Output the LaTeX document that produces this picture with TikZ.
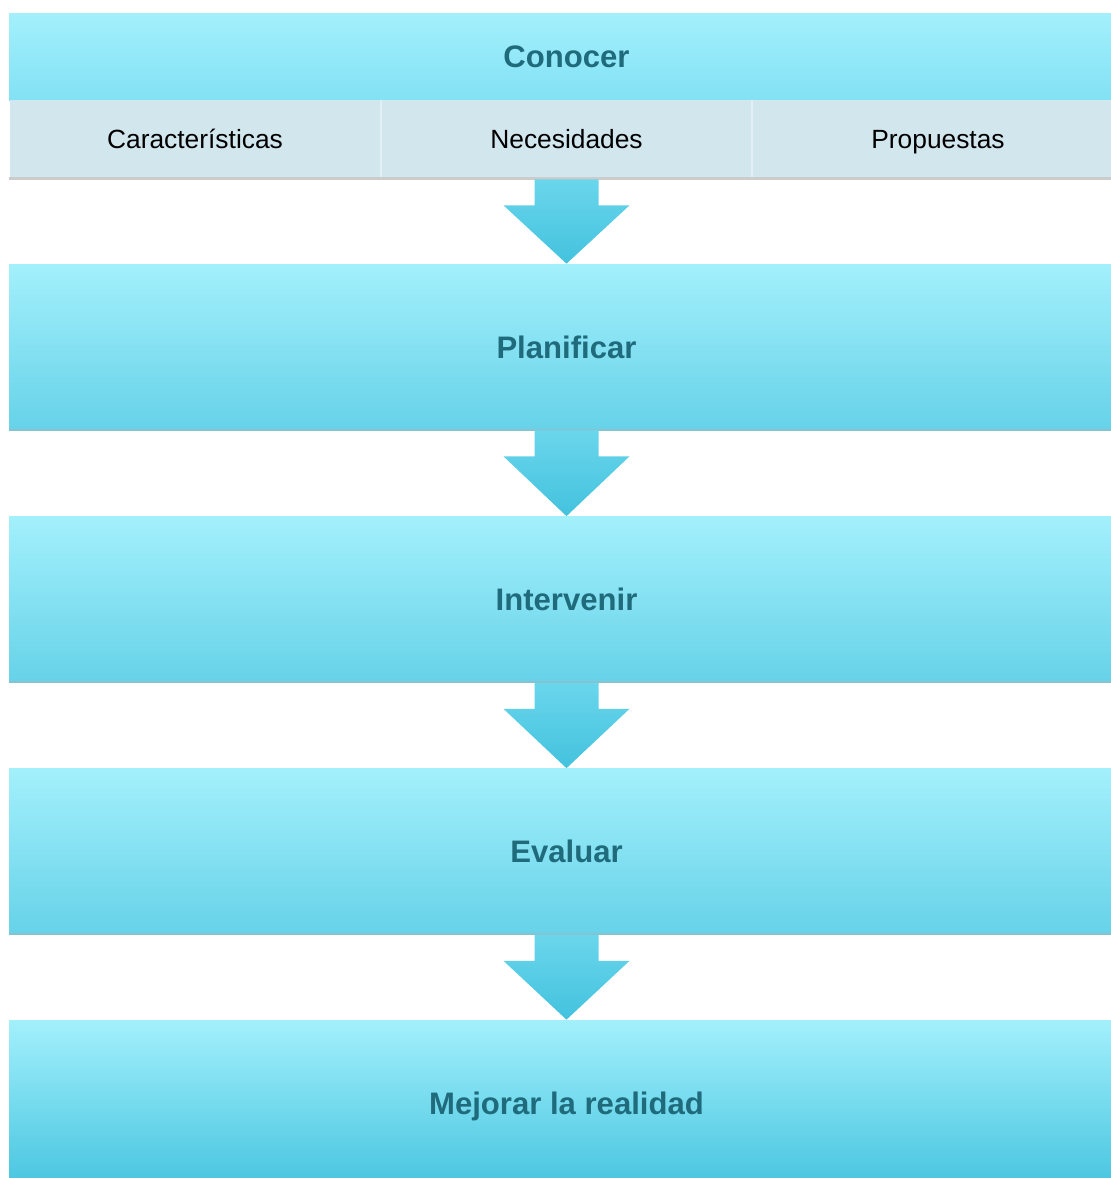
\documentclass[tikz,border=0pt]{standalone}
\usepackage{fontspec}
\setmainfont{Liberation Sans}
\usetikzlibrary{calc}
\definecolor{boxtop}{HTML}{A3F0FC}
\definecolor{boxmid}{HTML}{82E1F4}
\definecolor{boxbot}{HTML}{66D2E8}
\definecolor{lastbot}{HTML}{48C5E0}
\definecolor{arrowtop}{HTML}{6AD6EC}
\definecolor{arrowbot}{HTML}{43C2DE}
\definecolor{celfill}{HTML}{D2E6EE}
\definecolor{labtext}{HTML}{1F6B7C}
\tikzset{
  stage/.style={inner sep=0pt, minimum width=22.3cm, minimum height=3.32cm,
    top color=boxtop, bottom color=boxbot, text=labtext,
    text height=12.7pt, text depth=0pt,
    font=\fontsize{17.7}{20}\selectfont\bfseries},
  cell/.style={inner sep=0pt, minimum width=7.42cm, minimum height=1.58cm,
    fill=celfill, text height=10.8pt, text depth=0pt,
    font=\fontsize{15}{18}\selectfont}
}
\begin{document}
\begin{tikzpicture}[x=0.02cm, y=-0.02cm]
		\useasboundingbox (0,0) rectangle (1111,1178);
		\clip (0,0) rectangle (1111,1178);
		% header
		\node[stage, minimum height=1.74cm, bottom color=boxmid] (con) at (566.5,56.5) {Conocer};
		\node[cell] (car) at (195,139.5) {Características};
		\node[cell] (nec) at (566.5,139.5) {Necesidades};
		\node[cell] (pro) at (938,139.5) {Propuestas};
		\draw[white!35!celfill, line width=1pt] (car.north east) -- (car.south east);
		\draw[white!35!celfill, line width=1pt] (nec.north east) -- (nec.south east);
		\draw[black!20, line width=2pt] ($(car.south west)+(0,-1)$) -- ($(pro.south east)+(0,-1)$);
		% stages
		\node[stage] (pla) at (566.5,347) {Planificar};
		\node[stage] (int) at (566.5,599.5) {Intervenir};
		\node[stage] (eva) at (566.5,851.5) {Evaluar};
		\node[stage, bottom color=lastbot] (mej) at (566.5,1103) {Mejorar la realidad};
		\foreach \n in {pla, int, eva}
			\draw[boxbot!80!black!70, line width=1pt] ($(\n.south west)+(0,-0.5)$) -- ($(\n.south east)+(0,-0.5)$);
		% arrows
		\foreach \a/\b in {nec/pla, pla/int, int/eva, eva/mej}
			\shade[top color=arrowtop, bottom color=arrowbot]
				($(\a.south)+(-32,0)$) -- ($(\a.south)+(32,0)$) -- ($(\a.south)+(32,26)$)
				-- ($(\a.south)+(63,26)$) -- (\b.north) -- ($(\a.south)+(-63,26)$)
				-- ($(\a.south)+(-32,26)$) -- cycle;
	\end{tikzpicture}
\end{document}
